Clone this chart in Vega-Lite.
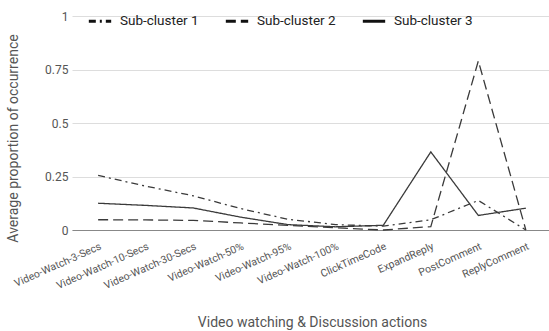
{
  "$schema": "https://vega.github.io/schema/vega-lite/v6.json",
  "autosize": {"type": "none"},
  "padding": {"left": 72, "top": 16, "right": 0, "bottom": 101},
  "width": 480,
  "height": 214,
  "background": "white",
  "config": {
    "font": "Roboto",
    "view": {"stroke": null}
  },
  "data": {
    "values": [
      {"action": "Video-Watch-3-Secs", "cluster": "Sub-cluster 1", "value": 0.255},
      {"action": "Video-Watch-10-Secs", "cluster": "Sub-cluster 1", "value": 0.205},
      {"action": "Video-Watch-30-Secs", "cluster": "Sub-cluster 1", "value": 0.16},
      {"action": "Video-Watch-50%", "cluster": "Sub-cluster 1", "value": 0.1},
      {"action": "Video-Watch-95%", "cluster": "Sub-cluster 1", "value": 0.05},
      {"action": "Video-Watch-100%", "cluster": "Sub-cluster 1", "value": 0.025},
      {"action": "ClickTimeCode", "cluster": "Sub-cluster 1", "value": 0.018},
      {"action": "ExpandReply", "cluster": "Sub-cluster 1", "value": 0.048},
      {"action": "PostComment", "cluster": "Sub-cluster 1", "value": 0.138},
      {"action": "ReplyComment", "cluster": "Sub-cluster 1", "value": 0.0},
      {"action": "Video-Watch-3-Secs", "cluster": "Sub-cluster 2", "value": 0.048},
      {"action": "Video-Watch-10-Secs", "cluster": "Sub-cluster 2", "value": 0.047},
      {"action": "Video-Watch-30-Secs", "cluster": "Sub-cluster 2", "value": 0.045},
      {"action": "Video-Watch-50%", "cluster": "Sub-cluster 2", "value": 0.033},
      {"action": "Video-Watch-95%", "cluster": "Sub-cluster 2", "value": 0.022},
      {"action": "Video-Watch-100%", "cluster": "Sub-cluster 2", "value": 0.01},
      {"action": "ClickTimeCode", "cluster": "Sub-cluster 2", "value": 0.0},
      {"action": "ExpandReply", "cluster": "Sub-cluster 2", "value": 0.016},
      {"action": "PostComment", "cluster": "Sub-cluster 2", "value": 0.79},
      {"action": "ReplyComment", "cluster": "Sub-cluster 2", "value": 0.0},
      {"action": "Video-Watch-3-Secs", "cluster": "Sub-cluster 3", "value": 0.125},
      {"action": "Video-Watch-10-Secs", "cluster": "Sub-cluster 3", "value": 0.115},
      {"action": "Video-Watch-30-Secs", "cluster": "Sub-cluster 3", "value": 0.103},
      {"action": "Video-Watch-50%", "cluster": "Sub-cluster 3", "value": 0.06},
      {"action": "Video-Watch-95%", "cluster": "Sub-cluster 3", "value": 0.025},
      {"action": "Video-Watch-100%", "cluster": "Sub-cluster 3", "value": 0.015},
      {"action": "ClickTimeCode", "cluster": "Sub-cluster 3", "value": 0.022},
      {"action": "ExpandReply", "cluster": "Sub-cluster 3", "value": 0.365},
      {"action": "PostComment", "cluster": "Sub-cluster 3", "value": 0.068},
      {"action": "ReplyComment", "cluster": "Sub-cluster 3", "value": 0.102}
    ]
  },
  "mark": {"type": "line", "strokeWidth": 1.3, "color": "#3a3a3a"},
  "encoding": {
    "x": {
      "field": "action",
      "type": "nominal",
      "sort": null,
      "scale": {"type": "point", "padding": 0.55},
      "axis": {
        "title": "Video watching & Discussion actions",
        "titleFont": "Roboto",
        "titleFontSize": 14,
        "titleFontWeight": "normal",
        "titleColor": "#555555",
        "titlePadding": 24,
        "labelAngle": -24,
        "labelAlign": "right",
        "labelBaseline": "top",
        "labelFontSize": 10.5,
        "labelColor": "#555555",
        "labelPadding": 11,
        "ticks": false,
        "domainColor": "#888888",
        "grid": false
      }
    },
    "y": {
      "field": "value",
      "type": "quantitative",
      "scale": {"domain": [0, 1], "nice": false},
      "axis": {
        "title": "Average proportion of occurrence",
        "titleFont": "Roboto",
        "titleFontSize": 14,
        "titleFontWeight": "normal",
        "titleColor": "#555555",
        "titlePadding": 24,
        "titleY": 122,
        "values": [0, 0.25, 0.5, 0.75, 1],
        "labelExpr": "datum.value + ''",
        "labelFontSize": 12,
        "labelColor": "#555555",
        "labelPadding": 4,
        "ticks": false,
        "domain": false,
        "gridColor": "#dddddd"
      }
    },
    "strokeDash": {
      "field": "cluster",
      "type": "nominal",
      "scale": {
        "domain": ["Sub-cluster 1", "Sub-cluster 2", "Sub-cluster 3"],
        "range": [[7, 4, 2, 4], [10, 5], [1, 0]]
      },
      "legend": {
        "title": null,
        "orient": "none",
        "direction": "horizontal",
        "legendX": 15,
        "legendY": -8,
        "symbolType": "stroke",
        "symbolSize": 500,
        "symbolStrokeWidth": 3,
        "symbolStrokeColor": "#111111",
        "labelFontSize": 13.5,
        "labelColor": "#222222",
        "labelOffset": 7,
        "columnPadding": 20
      }
    }
  }
}
